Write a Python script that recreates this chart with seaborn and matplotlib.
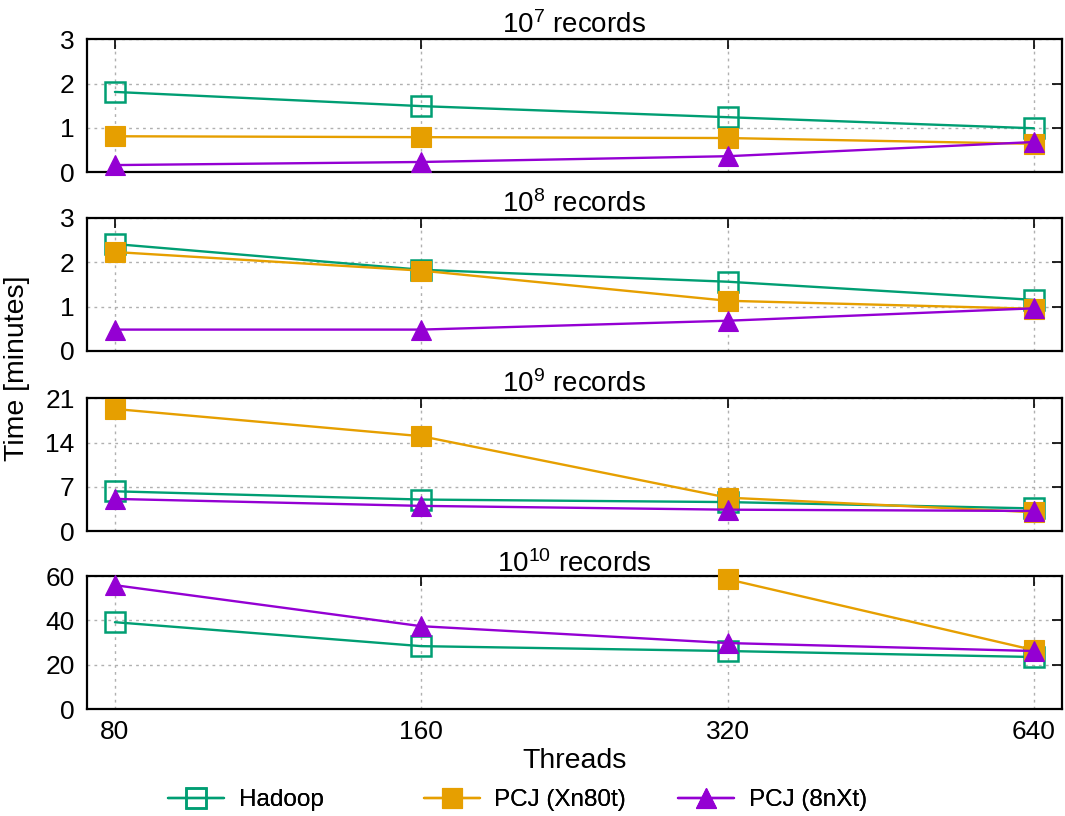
import pandas as pd
import seaborn as sns
import numpy as np
import matplotlib
matplotlib.use('Agg')
import matplotlib.pyplot as plt
from matplotlib.ticker import FixedLocator, NullLocator

threads = [80, 160, 320, 640]
panels = ['7', '8', '9', '10']

hadoop = {
    '7': [1.81, 1.49, 1.24, 0.99],
    '8': [2.41, 1.83, 1.56, 1.15],
    '9': [6.3, 5.0, 4.6, 3.6],
    '10': [39.2, 28.4, 26.2, 23.5],
}
pcj_xn80t = {
    '7': [0.81, 0.79, 0.77, 0.64],
    '8': [2.23, 1.81, 1.13, 0.95],
    '9': [19.3, 15.0, 5.3, 3.0],
    '10': [np.nan, np.nan, 58.6, 26.6],
}
pcj_8nxt = {
    '7': [0.16, 0.23, 0.36, 0.68],
    '8': [0.48, 0.48, 0.68, 0.96],
    '9': [5.1, 4.0, 3.4, 3.2],
    '10': [55.9, 37.4, 29.8, 26.2],
}
yticks = {
    '7': [0, 1, 2, 3],
    '8': [0, 1, 2, 3],
    '9': [0, 7, 14, 21],
    '10': [0, 20, 40, 60],
}

series = [
    ('Hadoop', hadoop, '#009e73', dict(marker='s', markerfacecolor='none', markeredgewidth=1.8)),
    ('PCJ (Xn80t)', pcj_xn80t, '#e69f00', dict(marker='s', markeredgewidth=0.8)),
    ('PCJ (8nXt)', pcj_8nxt, '#9400d3', dict(marker='^', markeredgewidth=0.8)),
]

sns.set_style('white')
plt.rcParams['font.family'] = ['Liberation Sans', 'DejaVu Sans']
plt.rcParams['mathtext.fontset'] = 'custom'
plt.rcParams['mathtext.rm'] = 'Liberation Sans'
plt.rcParams['mathtext.it'] = 'Liberation Sans'
for k in ['text.color', 'axes.labelcolor', 'xtick.color', 'ytick.color']:
    plt.rcParams[k] = 'black'

fig = plt.figure(figsize=(10.65, 8.16), dpi=100)
left, right = 0.0817, 0.997
tops = [0.952, 0.733, 0.512, 0.294]
h = 0.163

axes = []
for i, p in enumerate(panels):
    ax = fig.add_axes([left, tops[i] - h, right - left, h])
    for name, data, color, mk in series:
        df = pd.DataFrame({'threads': threads, 'time': data[p]})
        sns.lineplot(data=df, x='threads', y='time', ax=ax, color=color,
                     linewidth=1.7, markersize=14, markeredgecolor=color,
                     label=name if i == 0 else None,
                     clip_on=False, zorder=3, **mk)
    ax.set_xscale('log', base=2)
    ax.set_xlim(75.1, 681.6)
    ax.set_ylim(yticks[p][0], yticks[p][-1])
    ax.xaxis.set_major_locator(FixedLocator(threads))
    ax.xaxis.set_minor_locator(NullLocator())
    ax.set_yticks(yticks[p])
    ax.set_xticklabels([str(t) for t in threads] if i == 3 else [])
    ax.set_xlabel('Threads' if i == 3 else '', fontsize=20.5, labelpad=3)
    ax.set_ylabel('')
    ax.grid(True, color='#b0b0b0', linestyle=(0, (2, 3)), linewidth=1)
    ax.tick_params(direction='in', length=7, width=1.2, top=True, right=True,
                   labelsize=19)
    ax.tick_params(axis='y', pad=9)
    ax.tick_params(axis='x', pad=8)
    for s in ax.spines.values():
        s.set_linewidth(1.6)
        s.set_color('black')
    ax.set_title('$10^{%s}$ records' % p, fontsize=20, pad=3)
    if ax.get_legend() is not None:
        ax.get_legend().remove()
    axes.append(ax)

fig.text(0.016, 0.549, 'Time [minutes]', rotation=90, ha='center', va='center', fontsize=20.5)

# gnuplot-style key: three equally spaced entries under the plots
handles, labels = axes[0].get_legend_handles_labels()
key_x = [0.158, 0.398, 0.637]
for hd, lb, kx in zip(handles, labels, key_x):
    lg = fig.legend([hd], [lb], loc='center left', bbox_to_anchor=(kx, 0.0196),
                    frameon=False, fontsize=17.5, handlelength=2.3, handletextpad=0.6,
                    borderaxespad=0, borderpad=0)
    fig.add_artist(lg)

fig.savefig('out.png', dpi=100)
